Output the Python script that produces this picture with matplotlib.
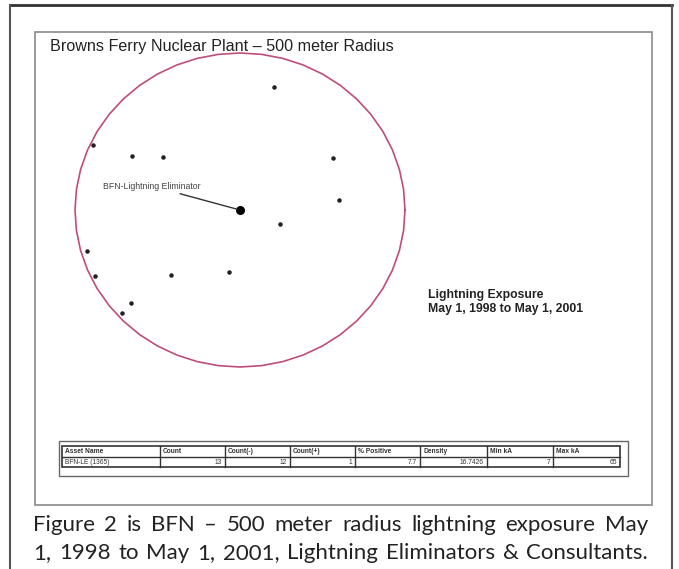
import numpy as np
import matplotlib
matplotlib.use("Agg")
from matplotlib import pyplot as plt

# strike locations, metres from the lightning eliminator (east, north)
strike_x = [103, -445, -327, -233, 282, 300, 121, -464, -439, -209, -33, -330, -358]
strike_y = [392, 207, 172, 169, 166, 32, -45, -131, -210, -207, -197, -296, -328]
radius_m = 500

title = "Browns Ferry Nuclear Plant \u2013 500 meter Radius"
site_label = "BFN-Lightning Eliminator"
exposure_lines = ["Lightning Exposure", "May 1, 1998 to May 1, 2001"]

table_header = ["Asset Name", "Count", "Count(-)", "Count(+)", "% Positive",
                "Density", "Min kA", "Max kA"]
table_row = ["BFN-LE (1365)", "13", "12", "1", "7.7", "16.7426", "7", "65"]

caption = ["Figure 2 is BFN \u2013 500 meter radius lightning exposure May",
           "1, 1998 to May 1, 2001, Lightning Eliminators & Consultants."]

W, H = 679, 569
fig = plt.figure(figsize=(W / 100, H / 100), dpi=100)
fig.patch.set_facecolor("white")

# whole-figure canvas in pixel coordinates
bg = fig.add_axes([0, 0, 1, 1])
bg.set_xlim(0, W)
bg.set_ylim(H, 0)
bg.axis("off")

# outer frame
bg.plot([10, 672], [5, 5], color="#333333", lw=2)
bg.plot([10, 10], [5, H], color="#555555", lw=1.5)
bg.plot([672, 672], [5, H], color="#555555", lw=1.5)
# inner box
bg.add_patch(plt.Rectangle((35, 32), 617, 473, fill=False, ec="#8a8a8a", lw=1.2))

bg.text(50, 46, title, fontsize=11.6, family="Liberation Sans", va="center", color="#222222")

for i, line in enumerate(exposure_lines):
    bg.text(428, 295 + i * 14, line, fontsize=8.8, fontweight="bold",
            family="Liberation Sans", va="center", color="#222222")

# table
col_x = [62, 160, 225, 290, 355, 420, 487, 553, 620]
row_y = [446, 457, 467]
bg.add_patch(plt.Rectangle((59, 441), 569, 35, fill=False, ec="#666666", lw=1.0))
bg.add_patch(plt.Rectangle((col_x[0], row_y[0]), col_x[-1] - col_x[0],
                           row_y[-1] - row_y[0], fill=False, ec="#333333", lw=1.2))
bg.plot([col_x[0], col_x[-1]], [row_y[1], row_y[1]], color="#333333", lw=1.0)
for cx in col_x[1:-1]:
    bg.plot([cx, cx], [row_y[0], row_y[-1]], color="#333333", lw=1.0)
for j, (h, v) in enumerate(zip(table_header, table_row)):
    bg.text(col_x[j] + 3, (row_y[0] + row_y[1]) / 2, h, fontsize=4.8, fontweight="bold",
            family="Liberation Sans", va="center", color="#333333")
    if j == 0:
        bg.text(col_x[j] + 3, (row_y[1] + row_y[2]) / 2, v, fontsize=4.8,
                family="Liberation Sans", va="center", color="#333333")
    else:
        bg.text(col_x[j + 1] - 3, (row_y[1] + row_y[2]) / 2, v, fontsize=4.8,
                family="Liberation Sans", va="center", ha="right", color="#333333")

# justified caption
fig.canvas.draw()
rend = fig.canvas.get_renderer()
left, right = 33, 648
for i, line in enumerate(caption):
    words = line.split(" ")
    ts = [bg.text(0, 0, w, fontsize=16, family="Lato", va="center", color="#222222")
          for w in words]
    widths = [t.get_window_extent(renderer=rend).width for t in ts]
    gap = (right - left - sum(widths)) / (len(words) - 1)
    x = left
    for t, w in zip(ts, widths):
        t.set_position((x, 525 + i * 28))
        x += w + gap

# strike map
ax = fig.add_axes([75 / W, (H - 367) / H, 330 / W, 314 / H])
ax.set_xlim(-radius_m, radius_m)
ax.set_ylim(-radius_m, radius_m)
ax.axis("off")
ang = np.linspace(0, 2 * np.pi, 49)
ax.plot(radius_m * np.cos(ang), radius_m * np.sin(ang), color="#bf4d7c", lw=1.2, clip_on=False)
ax.scatter(strike_x, strike_y, s=5, color="#222222", zorder=3, clip_on=False)
ax.scatter([0], [0], s=30, color="black", marker="o", zorder=3)
ax.annotate(site_label, xy=(0, 0), xytext=(-415, 75), fontsize=6.3,
            family="Liberation Sans", color="#444444", va="center",
            arrowprops=dict(arrowstyle="-", color="#333333", lw=1.0,
                            shrinkA=0, shrinkB=2, relpos=(0.65, 0.1)))

fig.savefig("out.png", dpi=100)
